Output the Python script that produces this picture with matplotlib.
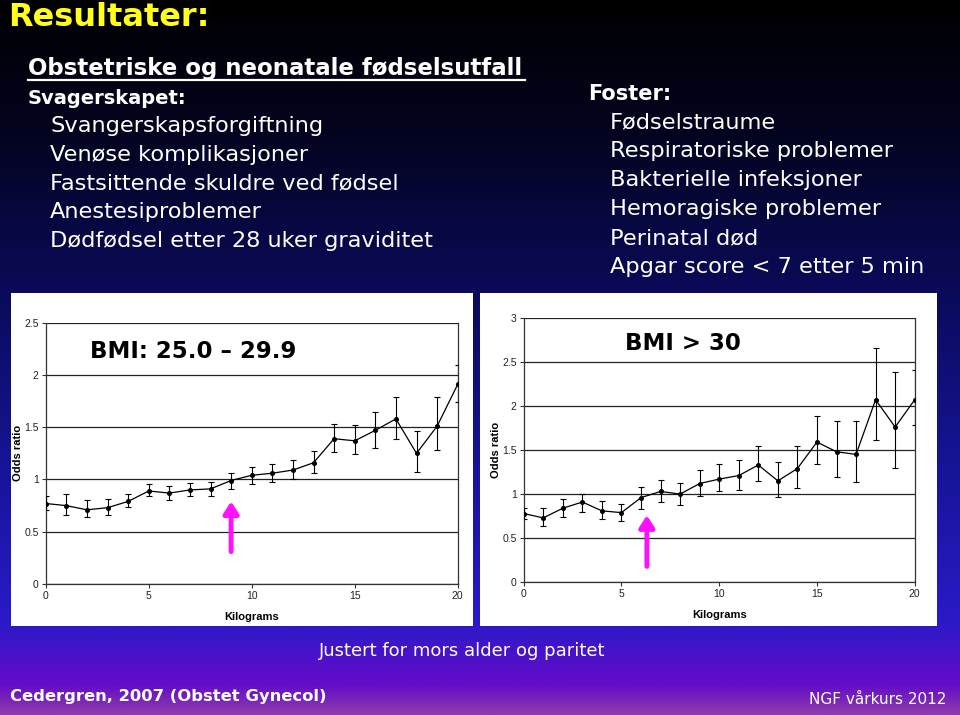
import numpy as np
import matplotlib
matplotlib.use("Agg")
import matplotlib.pyplot as plt
from matplotlib.colors import LinearSegmentedColormap
from matplotlib.lines import Line2D
from matplotlib.patches import Rectangle

# ---------------- data ----------------
kg = list(range(0, 21))

or_bmi25 = [0.77, 0.75, 0.71, 0.73, 0.79, 0.89, 0.87, 0.90, 0.91, 0.99, 1.04,
            1.06, 1.09, 1.16, 1.39, 1.37, 1.47, 1.58, 1.25, 1.51, 1.91]
lo_bmi25 = [0.71, 0.66, 0.64, 0.66, 0.74, 0.84, 0.80, 0.84, 0.84, 0.91, 0.96,
            0.98, 1.00, 1.06, 1.26, 1.24, 1.30, 1.39, 1.07, 1.28, 1.74]
hi_bmi25 = [0.84, 0.86, 0.80, 0.81, 0.86, 0.96, 0.94, 0.97, 0.98, 1.06, 1.12,
            1.15, 1.19, 1.27, 1.53, 1.52, 1.65, 1.79, 1.46, 1.79, 2.10]

or_bmi30 = [0.78, 0.73, 0.84, 0.91, 0.81, 0.79, 0.96, 1.03, 1.00, 1.12, 1.17,
            1.21, 1.33, 1.15, 1.29, 1.59, 1.48, 1.45, 2.07, 1.76, 2.07]
lo_bmi30 = [0.72, 0.64, 0.74, 0.80, 0.72, 0.70, 0.83, 0.91, 0.88, 0.98, 1.03,
            1.05, 1.15, 0.97, 1.07, 1.34, 1.19, 1.14, 1.61, 1.30, 1.78]
hi_bmi30 = [0.84, 0.84, 0.95, 1.00, 0.92, 0.89, 1.08, 1.16, 1.13, 1.27, 1.34,
            1.39, 1.54, 1.36, 1.54, 1.89, 1.83, 1.83, 2.66, 2.38, 2.41]

xticks = [0, 5, 10, 15, 20]
yticks_bmi25 = [0, 0.5, 1, 1.5, 2, 2.5]
yticks_bmi30 = [0, 0.5, 1, 1.5, 2, 2.5, 3]
ytick_labels_bmi25 = ["0", "0.5", "1", "1.5", "2", "2.5"]
ytick_labels_bmi30 = ["0", "0.5", "1", "1.5", "2", "2.5", "3"]

arrow_bmi25 = (9.0, 0.31, 0.79)   # x, tail y, tip y
arrow_bmi30 = (6.3, 0.18, 0.76)

title = "Resultater:"
heading = "Obstetriske og neonatale fødselsutfall"
left_head = "Svagerskapet:"
left_items = ["Svangerskapsforgiftning", "Venøse komplikasjoner",
              "Fastsittende skuldre ved fødsel", "Anestesiproblemer",
              "Dødfødsel etter 28 uker graviditet"]
right_head = "Foster:"
right_items = ["Fødselstraume", "Respiratoriske problemer",
               "Bakterielle infeksjoner", "Hemoragiske problemer",
               "Perinatal død", "Apgar score < 7 etter 5 min"]

W, H = 960, 715
fig = plt.figure(figsize=(W / 100, H / 100), dpi=100)

# ---------------- background gradient ----------------
bg = fig.add_axes([0, 0, 1, 1])
bg.set_axis_off()
stops = [(0.0, (0, 0, 0)), (0.2, (4, 4, 35)), (0.40, (10, 10, 88)),
         (0.65, (22, 20, 150)), (0.87, (42, 26, 200)), (0.96, (100, 12, 200)),
         (1.0, (140, 60, 170))]
cmap = LinearSegmentedColormap.from_list(
    "bg", [(p, tuple(c / 255 for c in col)) for p, col in stops])
grad = np.linspace(0, 1, 500).reshape(-1, 1)
bg.imshow(grad, aspect="auto", cmap=cmap, extent=[0, 1, 0, 1], origin="upper")
bg.set_xlim(0, 1)
bg.set_ylim(0, 1)

def fx(px):
    return px / W

def fy(py):
    return 1 - py / H

# ---------------- slide text ----------------
sf = "DejaVu Sans"
fig.text(fx(8), fy(18), title, color="#ffff1a", fontsize=23, fontweight="bold",
         family=sf, va="center", ha="left")
fig.text(fx(28), fy(68), heading, color="white", fontsize=16.5, fontweight="bold",
         family=sf, va="center", ha="left")
fig.add_artist(Line2D([fx(28), fx(525)], [fy(80), fy(80)], color="white", lw=1.6))
fig.text(fx(28), fy(98), left_head, color="white", fontsize=14, fontweight="bold",
         family=sf, va="center", ha="left")
for i, t in enumerate(left_items):
    fig.text(fx(50), fy(126 + i * 28.8), t, color="white", fontsize=16.2,
             family=sf, va="center", ha="left")
fig.text(fx(588), fy(94), right_head, color="white", fontsize=15, fontweight="bold",
         family=sf, va="center", ha="left")
for i, t in enumerate(right_items):
    fig.text(fx(610), fy(122 + i * 29), t, color="white", fontsize=16.2,
             family=sf, va="center", ha="left")

fig.text(fx(462), fy(651), "Justert for mors alder og paritet", color="white",
         fontsize=13, family=sf, va="center", ha="center")
fig.text(fx(10), fy(697), "Cedergren, 2007 (Obstet Gynecol)", color="white",
         fontsize=11.8, fontweight="bold", family=sf, va="center", ha="left")
fig.text(fx(946), fy(700), "NGF vårkurs 2012", color="white",
         fontsize=11, family="Liberation Sans Narrow", va="center", ha="right")

# ---------------- white panels ----------------
for x0, x1 in [(11, 473), (480, 937)]:
    fig.add_artist(Rectangle((fx(x0), fy(626)), fx(x1 - x0), (626 - 293) / H,
                             transform=fig.transFigure, facecolor="white",
                             edgecolor="none", zorder=1))

def make_chart(rect_px, y, lo, hi, ymax, yticks, ylabels, label, label_pos, arrow):
    l, r, t, b = rect_px
    ax = fig.add_axes([fx(l), fy(b), fx(r - l), (b - t) / H], zorder=2)
    ax.set_facecolor("white")
    yerr = [np.array(y) - np.array(lo), np.array(hi) - np.array(y)]
    ax.errorbar(kg, y, yerr=yerr, color="black", lw=0.9, elinewidth=0.8,
                capsize=2.2, capthick=0.8, marker="o", markersize=2.6, zorder=3)
    ax.set_xlim(0, 20)
    ax.set_ylim(0, ymax)
    ax.set_xticks(xticks)
    ax.set_yticks(yticks)
    ax.set_yticklabels(ylabels)
    ax.yaxis.grid(True, color="#222222", lw=0.9)
    ax.set_axisbelow(True)
    for s in ["top", "bottom", "left", "right"]:
        ax.spines[s].set_color("#333333")
        ax.spines[s].set_linewidth(0.9)
    ax.spines["top"].set_visible(False)
    ax.tick_params(axis="both", labelsize=7.5, direction="out", length=3,
                   width=0.8, colors="#333333", labelcolor="#222222", pad=2)
    for lab in ax.get_xticklabels() + ax.get_yticklabels():
        lab.set_family("Liberation Sans")
    ax.set_xlabel("Kilograms", fontsize=8, fontweight="bold",
                  family="Liberation Sans", labelpad=8)
    ax.set_ylabel("Odds ratio", fontsize=8, fontweight="bold",
                  family="Liberation Sans", labelpad=1)
    fig.text(fx(label_pos[0]), fy(label_pos[1]), label, fontsize=16.5,
             fontweight="bold", family=sf, va="center", ha="left", zorder=5)
    ax_x, y0, y1 = arrow
    ax.annotate("", xy=(ax_x, y1), xytext=(ax_x, y0),
                arrowprops=dict(arrowstyle="-|>,head_width=0.45,head_length=0.7",
                                color="#ff10ff", lw=3.5, shrinkA=0, shrinkB=0),
                zorder=4)
    return ax

make_chart((45.7, 457.7, 322.7, 584.0), or_bmi25, lo_bmi25, hi_bmi25, 2.5,
           yticks_bmi25, ytick_labels_bmi25, "BMI: 25.0 – 29.9", (90, 351),
           arrow_bmi25)
make_chart((523.7, 914.7, 317.7, 582.3), or_bmi30, lo_bmi30, hi_bmi30, 3.0,
           yticks_bmi30, ytick_labels_bmi30, "BMI > 30", (625, 343),
           arrow_bmi30)

fig.savefig("out.png", dpi=100)
